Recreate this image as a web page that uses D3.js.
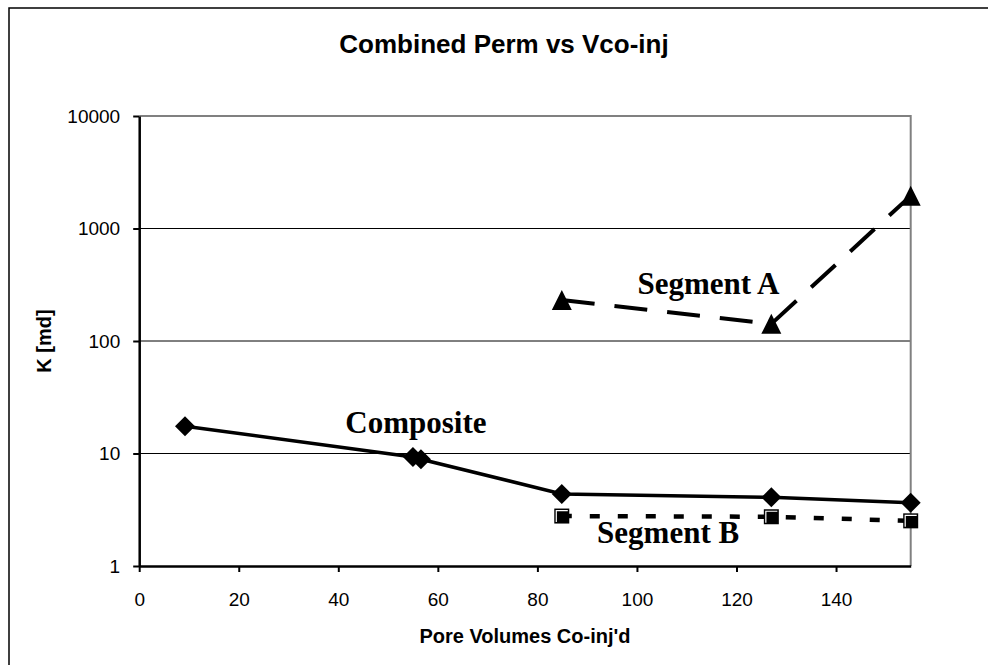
<!DOCTYPE html>
<html>
<head>
<meta charset="utf-8">
<script src="https://cdn.jsdelivr.net/npm/d3@7"></script>
<style>
  body { margin: 0; background: #fff; }
  svg { display: block; }
</style>
</head>
<body>
<div id="chart"></div>
<script>
// 数据：孔隙体积 与 渗透率
const compositeX = [9.2, 55.0, 56.6, 84.9, 127, 155];
const compositeK = [17.5, 9.3, 8.9, 4.37, 4.08, 3.65];
const segAX = [84.9, 127, 155];
const segAK = [231, 142, 1950];
const segBX = [84.9, 127, 155];
const segBK = [2.78, 2.74, 2.52];
const xTicks = [0, 20, 40, 60, 80, 100, 120, 140];
const yTicks = [1, 10, 100, 1000, 10000];
const labels = [
    { text: "Composite", x: 41.4, k: 15.2 },
    { text: "Segment A", x: 100.1, k: 263 },
    { text: "Segment B", x: 92.0, k: 1.6 }
];

const W = 988, H = 665;
const margin = { top: 116, right: W - 910.7, bottom: H - 566, left: 139.2 };
const width = W - margin.left - margin.right,
    height = H - margin.top - margin.bottom;

const svg = d3.select("#chart").append("svg")
    .attr("width", W)
    .attr("height", H);

// 外框
svg.append("rect")
    .attr("x", 9).attr("y", 8)
    .attr("width", 1000).attr("height", 700)
    .attr("fill", "#fff")
    .attr("stroke", "#000")
    .attr("stroke-width", 1.5);

// 标题
svg.append("text")
    .attr("x", 504)
    .attr("y", 53)
    .attr("text-anchor", "middle")
    .style("font-family", "Liberation Sans, Arial, sans-serif")
    .style("font-size", "26px")
    .style("font-weight", "bold")
    .text("Combined Perm vs Vco-inj");

const g = svg.append("g")
    .attr("transform", `translate(${margin.left},${margin.top})`);

const x = d3.scaleLinear().domain([0, 155]).range([0, width]);
const y = d3.scaleLog().domain([1, 10000]).range([height, 0]);

// 网格线
g.selectAll(".grid")
    .data(yTicks.filter(d => d > 1 && d < 10000))
    .enter().append("line")
    .attr("x1", 0).attr("x2", width)
    .attr("y1", d => y(d)).attr("y2", d => y(d))
    .attr("stroke", "#000")
    .attr("stroke-width", 1);

// 上边框和右边框（灰色）
g.append("path")
    .attr("d", `M0,${y(10000)}H${width}V${height}`)
    .attr("fill", "none")
    .attr("stroke", "#808080")
    .attr("stroke-width", 2);

// X轴
const xAxis = g.append("g")
    .attr("transform", `translate(0,${height})`)
    .call(d3.axisBottom(x).tickValues(xTicks).tickSize(6).tickSizeOuter(0).tickPadding(21));

// Y轴
const yAxis = g.append("g")
    .call(d3.axisLeft(y).tickValues(yTicks).tickFormat(d => d).tickSize(6).tickSizeOuter(0).tickPadding(13));

[xAxis, yAxis].forEach(a => {
    a.select(".domain").attr("stroke", "#000").attr("stroke-width", 2.5);
    a.selectAll(".tick line").attr("stroke", "#000").attr("stroke-width", 2);
    a.selectAll(".tick text")
        .attr("fill", "#000")
        .style("font-family", "Liberation Sans, Arial, sans-serif")
        .style("font-size", "19px");
});

// 轴标题
svg.append("text")
    .attr("x", margin.left + width / 2)
    .attr("y", 643)
    .attr("text-anchor", "middle")
    .style("font-family", "Liberation Sans, Arial, sans-serif")
    .style("font-size", "20px")
    .style("font-weight", "bold")
    .text("Pore Volumes Co-inj'd");

svg.append("text")
    .attr("transform", `translate(51,${margin.top + height / 2}) rotate(-90)`)
    .attr("text-anchor", "middle")
    .style("font-family", "Liberation Sans, Arial, sans-serif")
    .style("font-size", "20px")
    .style("font-weight", "bold")
    .text("K [md]");

const line = d3.line().x(d => x(d[0])).y(d => y(d[1]));

// Segment B 线
const segB = segBX.map((v, i) => [v, segBK[i]]);
g.append("path")
    .attr("d", line(segB))
    .attr("fill", "none")
    .attr("stroke", "#000")
    .attr("stroke-width", 4.5)
    .attr("stroke-dasharray", "10,18");

// Composite 线
const comp = compositeX.map((v, i) => [v, compositeK[i]]);
g.append("path")
    .attr("d", line(comp))
    .attr("fill", "none")
    .attr("stroke", "#000")
    .attr("stroke-width", 3.5);

// Segment A 线
const segA = segAX.map((v, i) => [v, segAK[i]]);
g.append("path")
    .attr("d", line(segA))
    .attr("fill", "none")
    .attr("stroke", "#000")
    .attr("stroke-width", 4)
    .attr("stroke-dasharray", "33,20");

// 菱形标记
g.selectAll(".diamond")
    .data(comp)
    .enter().append("path")
    .attr("d", d => {
        const cx = x(d[0]), cy = y(d[1]);
        return `M${cx},${cy - 10}L${cx + 10},${cy}L${cx},${cy + 10}L${cx - 10},${cy}Z`;
    })
    .attr("fill", "#000");

// 三角形标记
g.selectAll(".tri")
    .data(segA)
    .enter().append("path")
    .attr("d", d => {
        const cx = x(d[0]), cy = y(d[1]);
        return `M${cx},${cy - 10}L${cx + 10},${cy + 10}L${cx - 10},${cy + 10}Z`;
    })
    .attr("fill", "#000");

// 方形标记
const sq = g.selectAll(".sq")
    .data(segB)
    .enter().append("g")
    .attr("transform", d => `translate(${x(d[0])},${y(d[1])})`);
sq.append("rect")
    .attr("x", -7.5).attr("y", -7.5)
    .attr("width", 15).attr("height", 15)
    .attr("fill", "#000");
sq.append("path")
    .attr("d", "M-5.5,6V-5.5H6")
    .attr("fill", "none")
    .attr("stroke", "#fff")
    .attr("stroke-width", 1.2);

// 注释文字
g.selectAll(".lbl")
    .data(labels)
    .enter().append("text")
    .attr("x", d => x(d.x))
    .attr("y", d => y(d.k))
    .style("font-family", "Liberation Serif, Times New Roman, serif")
    .style("font-size", "31px")
    .style("font-weight", "bold")
    .text(d => d.text);
</script>
</body>
</html>
